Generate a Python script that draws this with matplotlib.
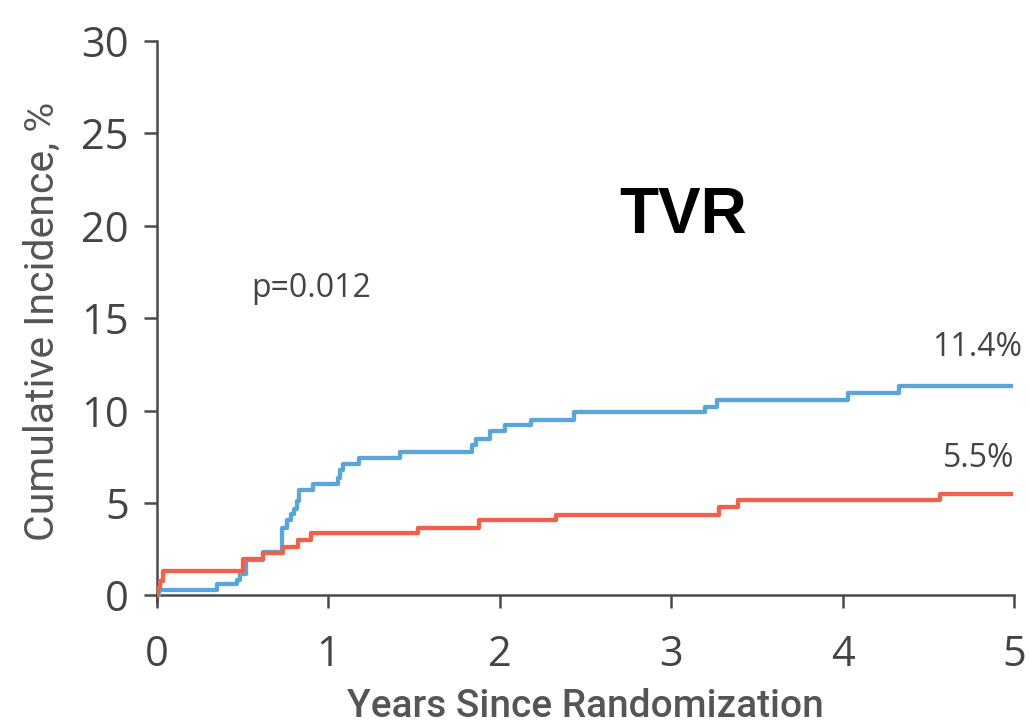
import matplotlib.pyplot as plt

# Cumulative incidence of TVR, read as step curves (years, %)
blue_years = [0, 0.01, 0.35, 0.465, 0.484, 0.52, 0.617, 0.727, 0.757, 0.78, 0.80,
              0.815, 0.83, 0.908, 1.058, 1.068, 1.087, 1.18, 1.418, 1.84, 1.86,
              1.943, 2.03, 2.18, 2.43, 3.2, 3.27, 4.03, 4.33, 4.98]
blue_pct = [0, 0.3, 0.6, 0.86, 1.18, 1.9, 2.35, 3.67, 4.07, 4.39, 4.66,
            5.1, 5.72, 6.04, 6.35, 6.79, 7.13, 7.42, 7.77, 8.13, 8.45,
            8.9, 9.2, 9.52, 9.95, 10.18, 10.6, 10.98, 11.34, 11.34]

red_years = [0, 0.005, 0.02, 0.037, 0.5, 0.617, 0.733, 0.825, 0.9, 1.525,
             1.88, 2.33, 3.28, 3.39, 4.57, 4.98]
red_pct = [0, 0.4, 0.8, 1.3, 1.96, 2.3, 2.62, 3.0, 3.36, 3.67,
           4.08, 4.38, 4.78, 5.19, 5.5, 5.5]

x_ticks = [0, 1, 2, 3, 4, 5]
y_ticks = [0, 5, 10, 15, 20, 25, 30]
blue_label = "11.4%"
red_label = "5.5%"
p_text = "p=0.012"

blue = "#5aa6da"
red = "#f1604a"
axis_gray = "#4a4a4a"
text_gray = "#555555"

fig = plt.figure(figsize=(10.29, 7.25), dpi=100)
ax = fig.add_axes([0.1526, 0.1697, 0.8328, 0.7737])

ax.step(blue_years, blue_pct, where="post", color=blue, lw=3.1, zorder=3)
ax.step(red_years, red_pct, where="post", color=red, lw=3.1, zorder=4)

ax.set_xlim(0, 5)
ax.set_ylim(-0.35, 30)
ax.spines["bottom"].set_position(("data", 0))
ax.spines["left"].set_bounds(-0.35, 30)
for side in ["top", "right"]:
    ax.spines[side].set_visible(False)
for side in ["left", "bottom"]:
    ax.spines[side].set_color(axis_gray)
    ax.spines[side].set_linewidth(1.8)

sans = ["Open Sans", "DejaVu Sans"]
tick_font = dict(family=sans, size=30, color="#444444")
ax.set_xticks(x_ticks)
ax.set_yticks(y_ticks)
ax.set_xticklabels([str(v) for v in x_ticks], fontdict=tick_font)
ax.set_yticklabels([str(v) for v in y_ticks], fontdict=tick_font)
ax.tick_params(axis="both", direction="out", length=9.4, width=1.8, color=axis_gray)
ax.tick_params(axis="y", pad=11)
ax.tick_params(axis="x", pad=18)

label_font = ["Roboto", "DejaVu Sans"]
ax.set_ylabel("Cumulative Incidence, %", family=label_font, fontsize=29.5,
              color=text_gray, labelpad=14)
ax.set_xlabel("Years Since Randomization", family=label_font, fontsize=28,
              fontweight="medium", color=text_gray, labelpad=9)

ax.text(3.07, 20.55, "TVR", family=["Liberation Sans", "DejaVu Sans"],
        fontsize=46, fontweight="bold", color="black", ha="center", va="center")
ax.text(0.55, 16.6, p_text, family=sans, fontsize=23,
        color="#444444", ha="left", va="center")
ax.text(5.05, blue_pct[-1] + 1.2, blue_label, family=sans,
        fontsize=23, color="#444444", ha="right", va="bottom", clip_on=False)
ax.text(5.0, red_pct[-1] + 1.0, red_label, family=sans,
        fontsize=23, color="#444444", ha="right", va="bottom", clip_on=False)

fig.savefig("out.png", dpi=100, facecolor="white")
